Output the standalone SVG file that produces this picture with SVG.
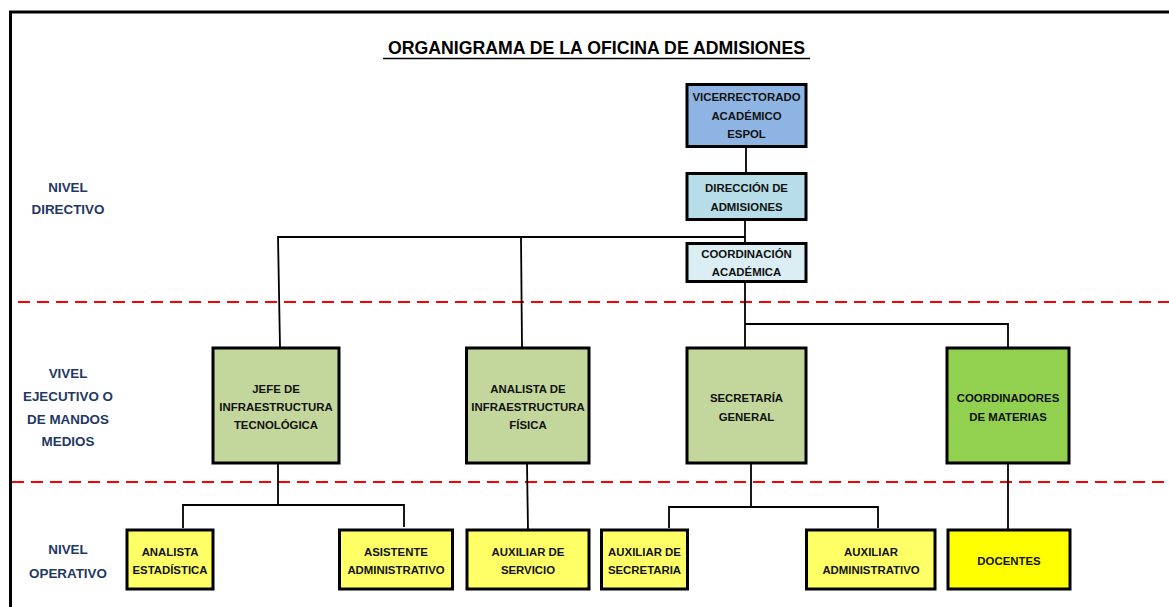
<svg xmlns="http://www.w3.org/2000/svg" width="1169" height="607" viewBox="0 0 1169 607">
<style>
.box{stroke:#000;stroke-width:3}
.t{font-family:"Liberation Sans",Arial,sans-serif;font-weight:bold;font-size:11.4px;fill:#111;text-anchor:middle}
.lvl{font-family:"Liberation Sans",Arial,sans-serif;font-weight:bold;font-size:13.4px;fill:#1F3864;text-anchor:middle}
.c{stroke:#000;stroke-width:1.8;fill:none}
.dash{stroke:#FF0000;stroke-width:2;stroke-dasharray:12 7;fill:none}
</style>
<rect width="1169" height="607" fill="#fff"/>
<g id="frame">
<path d="M10.5 607 V12 H1169" fill="none" stroke="#000" stroke-width="3"/>
</g>
<g id="title">
<text x="596.5" y="54" style="font-family:'Liberation Sans',Arial,sans-serif;font-weight:bold;font-size:17.7px;fill:#000;text-anchor:middle">ORGANIGRAMA DE LA OFICINA DE ADMISIONES</text>
<line x1="383" y1="58.5" x2="810" y2="58.5" stroke="#000" stroke-width="1.5"/>
</g>
<g id="dividers">
<line class="dash" x1="18" y1="302" x2="1169" y2="302"/>
<line class="dash" x1="12" y1="482" x2="1169" y2="482"/>
</g>
<g id="levels">
<text class="lvl" x="68" y="192">NIVEL</text>
<text class="lvl" x="68" y="214">DIRECTIVO</text>
<text class="lvl" x="68" y="378">VIVEL</text>
<text class="lvl" x="68" y="401">EJECUTIVO O</text>
<text class="lvl" x="68" y="424">DE MANDOS</text>
<text class="lvl" x="68" y="446">MEDIOS</text>
<text class="lvl" x="68" y="554">NIVEL</text>
<text class="lvl" x="68" y="578">OPERATIVO</text>
</g>
<g id="connectors">
<line class="c" x1="746" y1="147" x2="746" y2="173"/>
<line class="c" x1="745" y1="212" x2="745" y2="243"/>
<path class="c" d="M745 237 H278 L280 347"/>
<line class="c" x1="521" y1="237" x2="522" y2="347"/>
<line class="c" x1="745" y1="282" x2="745" y2="347"/>
<path class="c" d="M745 324 H1008 V347"/>
<path class="c" d="M278 464 V505"/>
<path class="c" d="M183 528 V505 H404 V527"/>
<line class="c" x1="527" y1="464" x2="528" y2="530"/>
<path class="c" d="M751 464 V507"/>
<path class="c" d="M669 528 V507 H878 V528"/>
<line class="c" x1="1008" y1="464" x2="1008" y2="530"/>
</g>
<g id="vicerrectorado">
<rect class="box" x="687" y="84.5" width="119" height="62" fill="#8EB4E3"/>
<text class="t" x="746.5" y="101">VICERRECTORADO</text>
<text class="t" x="746.5" y="120">ACADÉMICO</text>
<text class="t" x="746.5" y="138">ESPOL</text>
</g>
<g id="direccion">
<rect class="box" x="687" y="173.5" width="119" height="46" fill="#B7DEE8"/>
<text class="t" x="746.5" y="192">DIRECCIÓN DE</text>
<text class="t" x="746.5" y="211">ADMISIONES</text>
</g>
<g id="coordinacion">
<rect class="box" x="687" y="243.5" width="119" height="38" fill="#DAEEF3"/>
<text class="t" x="746.5" y="258">COORDINACIÓN</text>
<text class="t" x="746.5" y="276">ACADÉMICA</text>
</g>
<g id="jefe">
<rect class="box" x="213" y="348" width="126" height="115" fill="#C3D69B"/>
<text class="t" x="276" y="393">JEFE DE</text>
<text class="t" x="276" y="411">INFRAESTRUCTURA</text>
<text class="t" x="276" y="429">TECNOLÓGICA</text>
</g>
<g id="analista-fisica">
<rect class="box" x="466.5" y="348" width="122.5" height="115" fill="#C3D69B"/>
<text class="t" x="528" y="393">ANALISTA DE</text>
<text class="t" x="528" y="411">INFRAESTRUCTURA</text>
<text class="t" x="528" y="429">FÍSICA</text>
</g>
<g id="secretaria">
<rect class="box" x="687" y="348" width="119" height="115" fill="#C3D69B"/>
<text class="t" x="746.5" y="402">SECRETARÍA</text>
<text class="t" x="746.5" y="421">GENERAL</text>
</g>
<g id="coordinadores">
<rect class="box" x="947" y="348" width="122" height="115" fill="#92D050"/>
<text class="t" x="1008" y="402">COORDINADORES</text>
<text class="t" x="1008" y="421">DE MATERIAS</text>
</g>
<g id="analista-estadistica">
<rect class="box" x="127" y="530" width="86" height="59" fill="#FFFF66"/>
<text class="t" x="170" y="556">ANALISTA</text>
<text class="t" x="170" y="574">ESTADÍSTICA</text>
</g>
<g id="asistente">
<rect class="box" x="339.5" y="530" width="113" height="59" fill="#FFFF66"/>
<text class="t" x="396" y="556">ASISTENTE</text>
<text class="t" x="396" y="574">ADMINISTRATIVO</text>
</g>
<g id="auxiliar-servicio">
<rect class="box" x="467" y="530" width="122" height="59" fill="#FFFF66"/>
<text class="t" x="528" y="556">AUXILIAR DE</text>
<text class="t" x="528" y="574">SERVICIO</text>
</g>
<g id="auxiliar-secretaria">
<rect class="box" x="601.5" y="530" width="86" height="59" fill="#FFFF66"/>
<text class="t" x="644.5" y="556">AUXILIAR DE</text>
<text class="t" x="644.5" y="574">SECRETARIA</text>
</g>
<g id="auxiliar-administrativo">
<rect class="box" x="806.5" y="530" width="128.5" height="59" fill="#FFFF66"/>
<text class="t" x="871" y="556">AUXILIAR</text>
<text class="t" x="871" y="574">ADMINISTRATIVO</text>
</g>
<g id="docentes">
<rect class="box" x="948" y="530" width="122" height="59" fill="#FFFF00"/>
<text class="t" x="1009" y="565">DOCENTES</text>
</g>
</svg>
